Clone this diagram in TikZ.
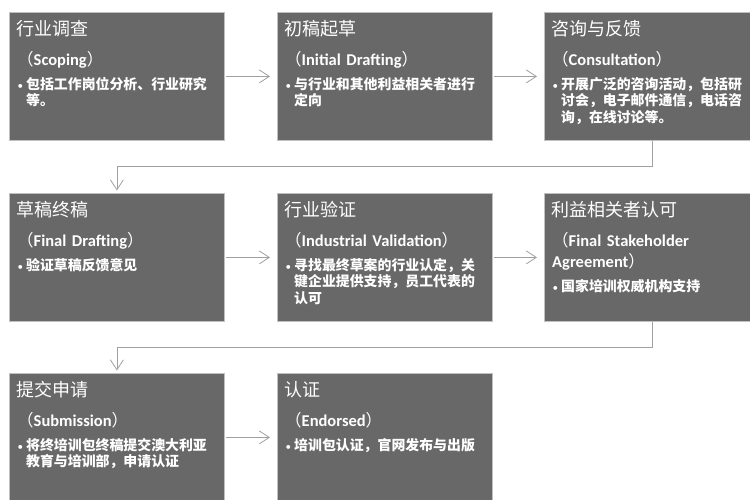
\documentclass[tikz,border=0pt]{standalone}
\usepackage{fontspec}
\setmainfont{Carlito}
\newfontfamily\cjk{Noto Sans CJK SC}
\usetikzlibrary{arrows.meta}
\definecolor{boxgray}{RGB}{104,104,104}
\definecolor{edgegray}{RGB}{192,192,192}
\definecolor{linegray}{RGB}{160,160,160}
\newcommand{\openp}{{\cjk\mdseries （}}
\newcommand{\closep}{{\cjk\mdseries ）}}
\newcommand{\dotb}{\llap{\normalfont\fontsize{11}{11}\selectfont •\hspace{3pt}}}
\tikzset{
  stage/.style={anchor=north west,fill=boxgray,draw=edgegray,line width=0.8pt,
    minimum width=215pt,minimum height=128pt,inner sep=0pt},
  stagetitle/.style={anchor=base west,inner sep=0pt,text=white,
    font=\cjk\fontsize{18}{22}\selectfont},
  stageen/.style={anchor=base west,inner sep=0pt,text=white,text width=206pt,
    align=left,font=\bfseries\fontsize{16.5}{21}\selectfont},
  stagetext/.style={anchor=base west,inner sep=0pt,text=white,text width=200pt,
    align=left,font=\cjk\bfseries\fontsize{13.9}{16.5}\selectfont},
  conn/.style={draw=linegray,line width=0.8pt,-{Straight Barb[length=10pt,width=13pt]}}
}
\begin{document}
\begin{tikzpicture}[x=1pt,y=-1pt]
\useasboundingbox (0,0) rectangle (750,499);

% row 1
\node[stage] (scope) at (9,12) {};
\node[stagetitle] (scopet) at (16.5,35.5) {行业调查};
\node[stageen] (scopee) at (17,65) {\openp Scoping\closep};
\node[stagetext] (scopeb) at (26,89) {\dotb 包括工作岗位分析、行业研究\\等。};

\node[stage] (init) at (277,12) {};
\node[stagetitle] (initt) at (284.5,35.5) {初稿起草};
\node[stageen] (inite) at (285,65) {\openp Initial Drafting\closep};
\node[stagetext] (initb) at (294,89) {\dotb 与行业和其他利益相关者进行\\定向};

\node[stage] (cons) at (544,12) {};
\node[stagetitle] (const) at (551.5,35.5) {咨询与反馈};
\node[stageen] (conse) at (552,65) {\openp Consultation\closep};
\node[stagetext] (consb) at (561,89) {\dotb 开展广泛的咨询活动，包括研\\讨会，电子邮件通信，电话咨\\询，在线讨论等。};

% row 2
\node[stage] (fdraft) at (9,193) {};
\node[stagetitle] (fdraftt) at (16.5,216.5) {草稿终稿};
\node[stageen] (fdrafte) at (17,246) {\openp Final Drafting\closep};
\node[stagetext] (fdraftb) at (26,270) {\dotb 验证草稿反馈意见};

\node[stage] (valid) at (277,193) {};
\node[stagetitle] (validt) at (284.5,216.5) {行业验证};
\node[stageen] (valide) at (285,246) {\openp Industrial Validation\closep};
\node[stagetext] (validb) at (294,270) {\dotb 寻找最终草案的行业认定，关\\键企业提供支持，员工代表的\\认可};

\node[stage] (agree) at (544,193) {};
\node[stagetitle] (agreet) at (551.5,216.5) {利益相关者认可};
\node[stageen] (agreee) at (552,246) {\openp Final Stakeholder\\Agreement\closep};
\node[stagetext] (agreeb) at (561,291) {\dotb 国家培训权威机构支持};

% row 3
\node[stage] (subm) at (9,373) {};
\node[stagetitle] (submt) at (16.5,396.5) {提交申请};
\node[stageen] (subme) at (17,426) {\openp Submission\closep};
\node[stagetext] (submb) at (26,450) {\dotb 将终培训包终稿提交澳大利亚\\教育与培训部，申请认证};

\node[stage] (endo) at (277,373) {};
\node[stagetitle] (endot) at (284.5,396.5) {认证};
\node[stageen] (endoe) at (285,426) {\openp Endorsed\closep};
\node[stagetext] (endob) at (294,450) {\dotb 培训包认证，官网发布与出版};

% arrows
\draw[conn] ([xshift=1.5pt]scope.east) -- ([xshift=-7pt]init.west);
\draw[conn] ([xshift=1.5pt]init.east) -- ([xshift=-7pt]cons.west);
\draw[conn] (cons.south) -- ++(0,26) -| ([yshift=2.5pt]fdraft.north);
\draw[conn] ([xshift=1.5pt]fdraft.east) -- ([xshift=-7pt]valid.west);
\draw[conn] ([xshift=1.5pt]valid.east) -- ([xshift=-7pt]agree.west);
\draw[conn] (agree.south) -- ++(0,26) -| ([yshift=2.5pt]subm.north);
\draw[conn] ([xshift=1.5pt]subm.east) -- ([xshift=-7pt]endo.west);

\end{tikzpicture}
\end{document}
